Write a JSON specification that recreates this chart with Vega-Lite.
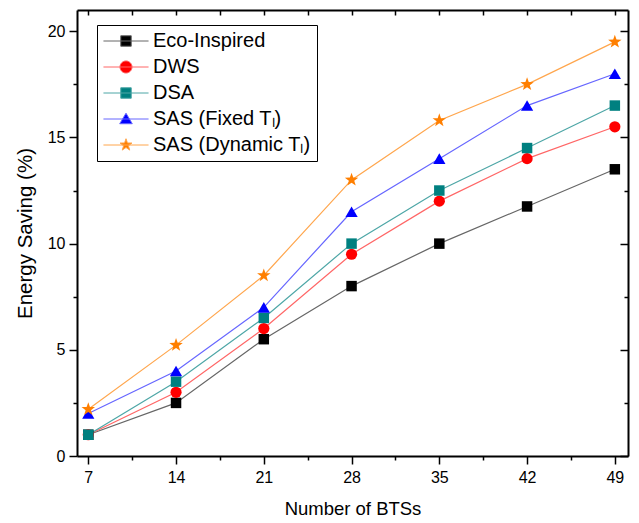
{
  "$schema": "https://vega.github.io/schema/vega-lite/v6.json",
  "width": 551,
  "height": 446,
  "autosize": "none",
  "padding": {"left": 77, "top": 10, "right": 11, "bottom": 67},
  "background": "white",
  "config": {
    "view": {"stroke": null},
    "font": "Liberation Sans",
    "axis": {"grid": false, "domainColor": "black", "domainWidth": 2, "tickColor": "black", "tickWidth": 1.5, "labelColor": "black", "titleColor": "black", "labelFont": "Liberation Sans", "titleFont": "Liberation Sans", "labelFontSize": 16, "titleFontSize": 18.5, "titleFontWeight": "normal"},
    "legend": {"title": null, "orient": "none", "legendX": 20, "legendY": 15, "padding": 6, "strokeColor": "black", "fillColor": "white", "labelFontSize": 20, "labelFont": "Liberation Sans", "labelColor": "black", "symbolOffset": 13, "labelOffset": 17, "rowPadding": 6, "symbolSize": 110, "symbolOpacity": 1, "symbolStrokeWidth": 1}
  },
  "data": {
    "values": [
      {"n": 7, "series": "Eco-Inspired", "value": 1},
      {"n": 14, "series": "Eco-Inspired", "value": 2.5},
      {"n": 21, "series": "Eco-Inspired", "value": 5.5},
      {"n": 28, "series": "Eco-Inspired", "value": 8},
      {"n": 35, "series": "Eco-Inspired", "value": 10},
      {"n": 42, "series": "Eco-Inspired", "value": 11.75},
      {"n": 49, "series": "Eco-Inspired", "value": 13.5},
      {"n": 7, "series": "DWS", "value": 1},
      {"n": 14, "series": "DWS", "value": 3},
      {"n": 21, "series": "DWS", "value": 6},
      {"n": 28, "series": "DWS", "value": 9.5},
      {"n": 35, "series": "DWS", "value": 12},
      {"n": 42, "series": "DWS", "value": 14},
      {"n": 49, "series": "DWS", "value": 15.5},
      {"n": 7, "series": "DSA", "value": 1},
      {"n": 14, "series": "DSA", "value": 3.5},
      {"n": 21, "series": "DSA", "value": 6.5},
      {"n": 28, "series": "DSA", "value": 10},
      {"n": 35, "series": "DSA", "value": 12.5},
      {"n": 42, "series": "DSA", "value": 14.5},
      {"n": 49, "series": "DSA", "value": 16.5},
      {"n": 7, "series": "SAS (Fixed Tₗ)", "value": 2},
      {"n": 14, "series": "SAS (Fixed Tₗ)", "value": 4},
      {"n": 21, "series": "SAS (Fixed Tₗ)", "value": 7},
      {"n": 28, "series": "SAS (Fixed Tₗ)", "value": 11.5},
      {"n": 35, "series": "SAS (Fixed Tₗ)", "value": 14},
      {"n": 42, "series": "SAS (Fixed Tₗ)", "value": 16.5},
      {"n": 49, "series": "SAS (Fixed Tₗ)", "value": 18},
      {"n": 7, "series": "SAS (Dynamic Tₗ)", "value": 2.2},
      {"n": 14, "series": "SAS (Dynamic Tₗ)", "value": 5.22},
      {"n": 21, "series": "SAS (Dynamic Tₗ)", "value": 8.5},
      {"n": 28, "series": "SAS (Dynamic Tₗ)", "value": 13},
      {"n": 35, "series": "SAS (Dynamic Tₗ)", "value": 15.8},
      {"n": 42, "series": "SAS (Dynamic Tₗ)", "value": 17.5},
      {"n": 49, "series": "SAS (Dynamic Tₗ)", "value": 19.5}
    ]
  },
  "resolve": {"axis": {"x": "independent", "y": "independent"}},
  "layer": [
    {
      "mark": {"type": "point", "filled": true, "opacity": 0, "strokeWidth": 1},
      "encoding": {
        "x": {"field": "n", "type": "quantitative", "scale": {"domain": [6.1, 50.05], "nice": false, "zero": false},
          "axis": {"orient": "bottom", "title": "Number of BTSs", "values": [7, 10.5, 14, 17.5, 21, 24.5, 28, 31.5, 35, 38.5, 42, 45.5, 49], "labelExpr": "datum.value % 7 == 0 ? datum.label : ''", "tickSize": {"condition": {"test": "datum.value % 7 == 0", "value": 8}, "value": 4}, "labelPadding": 5, "titlePadding": 14}},
        "y": {"field": "value", "type": "quantitative", "scale": {"domain": [0, 21], "nice": false},
          "axis": {"orient": "left", "title": "Energy Saving (%)", "titleFontSize": 20.5, "values": [0, 2.5, 5, 7.5, 10, 12.5, 15, 17.5, 20], "labelExpr": "datum.value % 5 == 0 ? datum.label : ''", "tickSize": {"condition": {"test": "datum.value % 5 == 0", "value": 8}, "value": 4}, "labelPadding": 4, "titlePadding": 12}},
        "fill": {"field": "series", "type": "nominal",
          "scale": {"domain": ["Eco-Inspired", "DWS", "DSA", "SAS (Fixed Tₗ)", "SAS (Dynamic Tₗ)"], "range": ["#000000", "#ff0000", "#008080", "#0000ff", "#ff7f00"]}},
        "stroke": {"field": "series", "type": "nominal",
          "scale": {"domain": ["Eco-Inspired", "DWS", "DSA", "SAS (Fixed Tₗ)", "SAS (Dynamic Tₗ)"], "range": ["#666666", "#ff6666", "#4da6a6", "#6666ff", "#ffa64d"]}},
        "shape": {"field": "series", "type": "nominal",
          "scale": {"domain": ["Eco-Inspired", "DWS", "DSA", "SAS (Fixed Tₗ)", "SAS (Dynamic Tₗ)"], "range": [
            "M-4.3,0H4.3M-1,-1H1V1H-1Z",
            "M-4.3,0H4.3M-1.15,0A1.15,1.15,0,1,1,1.15,0A1.15,1.15,0,1,1,-1.15,0Z",
            "M-4.3,0H4.3M-1,-1H1V1H-1Z",
            "M-4.3,0H4.3M0,-1.1L1.2,0.9H-1.2Z",
            "M-4.3,0H4.3M0,-1.2L0.28,-0.39L1.14,-0.37L0.46,0.15L0.71,0.97L0,0.48L-0.71,0.97L-0.46,0.15L-1.14,-0.37L-0.28,-0.39Z"]}}
      }
    },
    {
      "mark": {"type": "line", "strokeWidth": 1.2},
      "encoding": {
        "x": {"field": "n", "type": "quantitative", "axis": null},
        "y": {"field": "value", "type": "quantitative", "axis": null},
        "stroke": {"field": "series", "type": "nominal"}
      }
    },
    {
      "transform": [{"filter": "datum.series == 'Eco-Inspired'"}],
      "mark": {"type": "point", "filled": true, "opacity": 1, "shape": "square", "size": 110, "color": "#000000"},
      "encoding": {
        "x": {"field": "n", "type": "quantitative",
          "axis": {"orient": "top", "title": null, "labels": false, "values": [7, 10.5, 14, 17.5, 21, 24.5, 28, 31.5, 35, 38.5, 42, 45.5, 49], "tickSize": -5}},
        "y": {"field": "value", "type": "quantitative",
          "axis": {"orient": "right", "title": null, "labels": false, "values": [0, 2.5, 5, 7.5, 10, 12.5, 15, 17.5, 20], "tickSize": {"condition": {"test": "datum.value % 5 == 0", "value": -8}, "value": -4}}}
      }
    },
    {
      "transform": [{"filter": "datum.series == 'DWS'"}],
      "mark": {"type": "point", "filled": true, "opacity": 1, "shape": "circle", "size": 125, "color": "#ff0000"},
      "encoding": {
        "x": {"field": "n", "type": "quantitative", "axis": null},
        "y": {"field": "value", "type": "quantitative", "axis": null}
      }
    },
    {
      "transform": [{"filter": "datum.series == 'DSA'"}],
      "mark": {"type": "point", "filled": true, "opacity": 1, "shape": "square", "size": 110, "color": "#008080"},
      "encoding": {
        "x": {"field": "n", "type": "quantitative", "axis": null},
        "y": {"field": "value", "type": "quantitative", "axis": null}
      }
    },
    {
      "transform": [{"filter": "datum.series == 'SAS (Fixed Tₗ)'"}],
      "mark": {"type": "point", "filled": true, "opacity": 1, "shape": "triangle-up", "size": 150, "color": "#0000ff"},
      "encoding": {
        "x": {"field": "n", "type": "quantitative", "axis": null},
        "y": {"field": "value", "type": "quantitative", "axis": null}
      }
    },
    {
      "transform": [{"filter": "datum.series == 'SAS (Dynamic Tₗ)'"}],
      "mark": {"type": "point", "filled": true, "opacity": 1, "shape": "M0,-1L0.235,-0.324L0.951,-0.309L0.38,0.124L0.588,0.809L0,0.4L-0.588,0.809L-0.38,0.124L-0.951,-0.309L-0.235,-0.324Z", "size": 200, "color": "#ff7f00"},
      "encoding": {
        "x": {"field": "n", "type": "quantitative", "axis": null},
        "y": {"field": "value", "type": "quantitative", "axis": null}
      }
    }
  ]
}
